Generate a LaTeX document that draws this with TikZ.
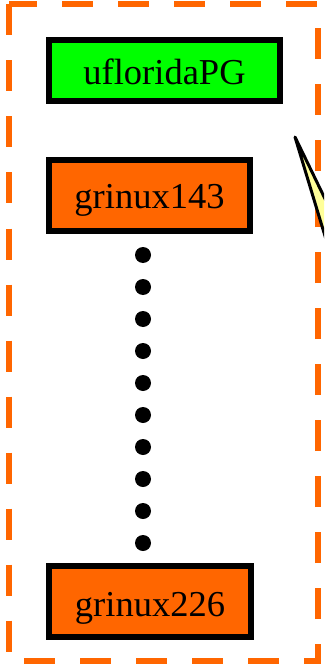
\documentclass[tikz,border=0pt]{standalone}
\usepackage{fontspec}
\setmainfont{Liberation Serif}
\definecolor{gvgreen}{HTML}{00FF00}
\definecolor{gvorange}{HTML}{FF6600}
\definecolor{gvyellow}{HTML}{FFFF99}
\tikzset{
  hostbox/.style={draw=black, line width=6pt, inner sep=0pt, font=\fontsize{36.5}{40}\selectfont},
  dotnode/.style={circle, fill=black, inner sep=0pt, minimum size=16pt},
  frame/.style={draw=gvorange, line width=6pt, dash pattern=on 31pt off 25pt}
}
\begin{document}
\begin{tikzpicture}[x=1pt,y=-1pt]
\useasboundingbox (0,0) rectangle (324,668);
\draw[frame] (8.5,4.5) -- (8.5,661) -- (318,661) -- (318,4.5) -- cycle;
\begin{scope}
\clip (0,0) rectangle (324,668);
\coordinate (wtip) at (295,137);
\coordinate (wa) at (345,302);
\coordinate (wb) at (345,240);
\draw[fill=gvyellow, line width=3pt, line join=round] (wtip) -- (wa) -- (wb) -- cycle;
\end{scope}
\node[hostbox, fill=gvgreen, minimum width=231pt, minimum height=61pt, text height=34pt, text depth=5pt] (uf) at (164.5,70.5) {ufloridaPG};
\node[hostbox, fill=gvorange, minimum width=201pt, minimum height=71pt, text height=34pt, text depth=9pt] (g143) at (149.5,195.5) {grinux143};
\node[hostbox, fill=gvorange, minimum width=202pt, minimum height=71pt, text height=35pt, text depth=6pt] (g226) at (150,601.5) {grinux226};
\foreach \i in {0,...,9} {
  \node[dotnode] (d\i) at (143,255+32*\i) {};
}
\end{tikzpicture}
\end{document}
